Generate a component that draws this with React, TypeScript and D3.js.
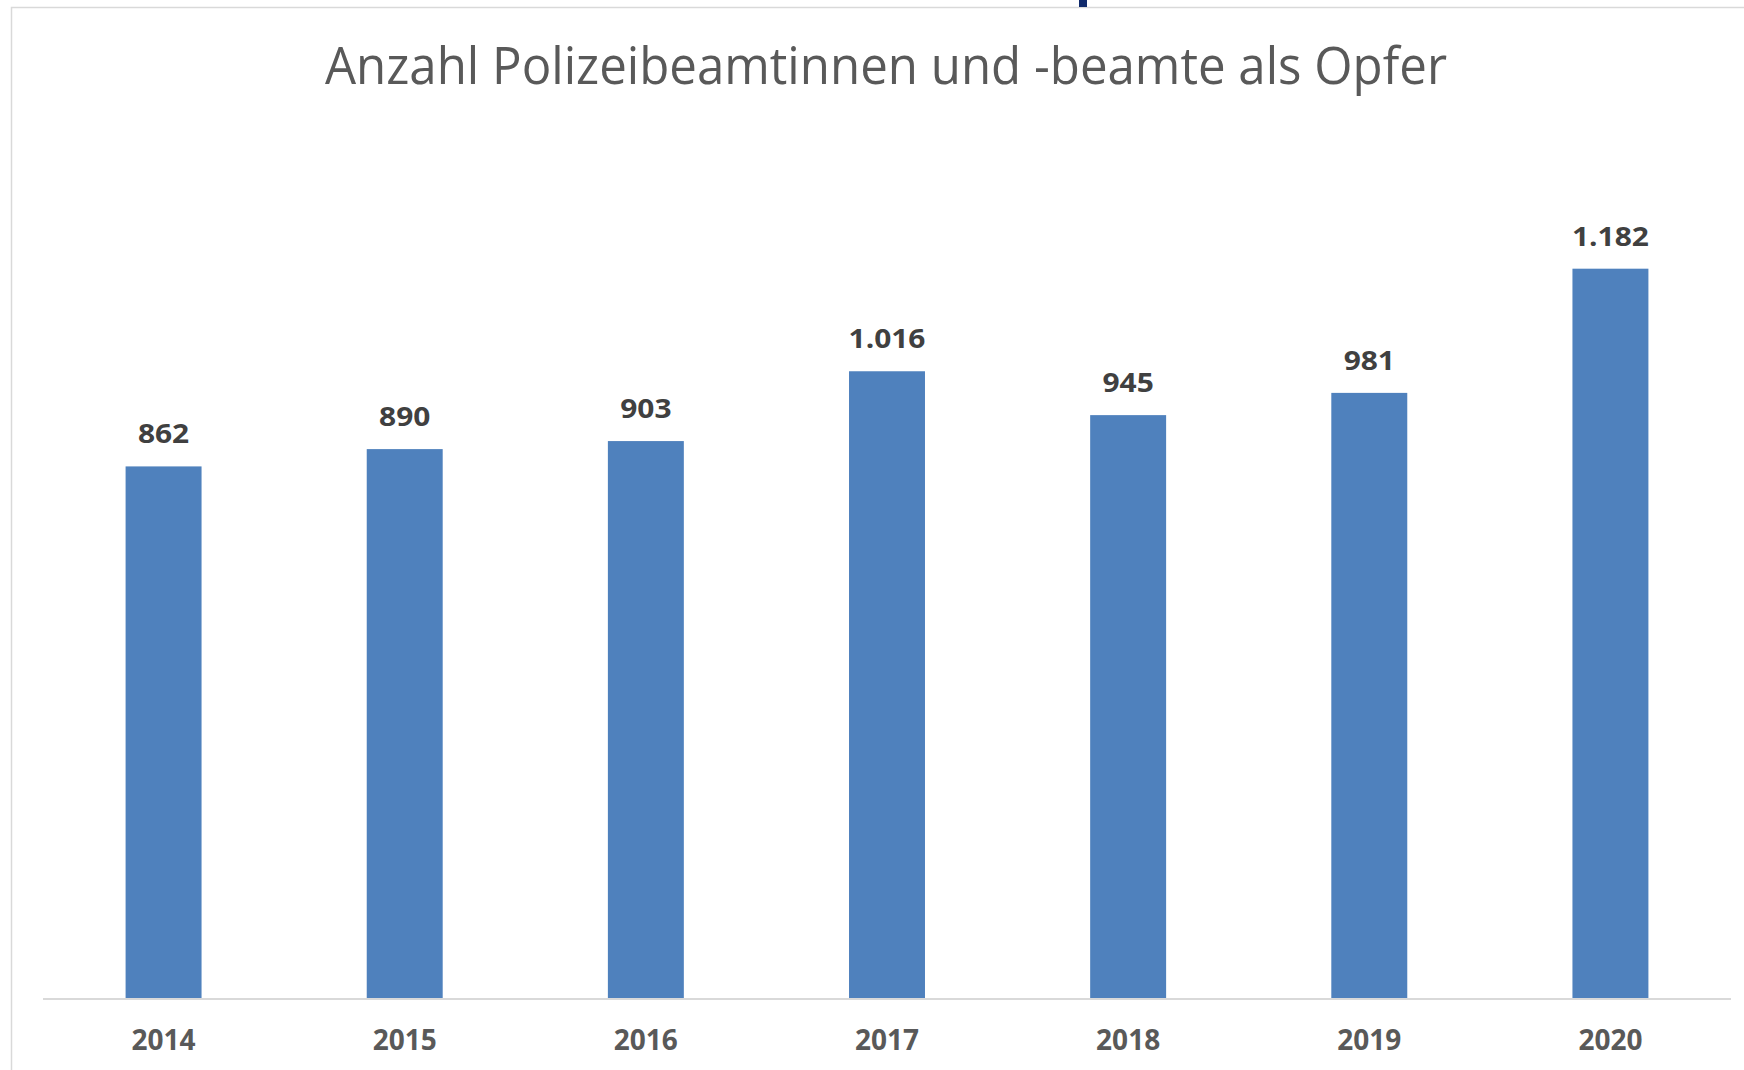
import React from "react";
import * as d3 from "d3";

const title = "Anzahl Polizeibeamtinnen und -beamte als Opfer";
const years = ["2014", "2015", "2016", "2017", "2018", "2019", "2020"];
const victims = [862, 890, 903, 1016, 945, 981, 1182];
const yDomain = [0, 1400];

const W = 1744;
const H = 1070;

const deLocale = d3.formatLocale({
  decimal: ",",
  thousands: ".",
  grouping: [3],
  currency: ["", " €"],
});
const fmt = deLocale.format(",d");

export default function App() {
  const x = d3
    .scaleBand<string>()
    .domain(years)
    .range([43, 1731])
    .paddingInner(0.685)
    .paddingOuter(0.3425);
  const y = d3.scaleLinear().domain(yDomain).range([999, 134]);

  const font = "'Open Sans', Calibri, Carlito, sans-serif";

  return (
    <svg
      width={W}
      height={H}
      viewBox={`0 0 ${W} ${H}`}
      style={{ position: "absolute", left: 0, top: 0, background: "#fff" }}
    >
      <rect x={0} y={0} width={W} height={H} fill="#ffffff" />
      {/* chart frame */}
      <rect
        x={11.5}
        y={7.5}
        width={1900}
        height={1200}
        fill="none"
        stroke="#d9d9d9"
        strokeWidth={1.5}
      />
      {/* small dark mark at top edge */}
      <rect x={1079} y={0} width={8} height={7} fill="#102a6b" />

      {/* title */}
      <text
        x={886}
        y={83.5}
        textAnchor="middle"
        fontFamily={font}
        fontSize={51}
        fill="#595959"
        textLength={1122}
        lengthAdjust="spacingAndGlyphs"
      >
        {title}
      </text>

      {/* bars */}
      {years.map((yr, i) => (
        <rect
          key={yr}
          x={x(yr)}
          y={y(victims[i])}
          width={x.bandwidth()}
          height={y(0) - y(victims[i])}
          fill="#4f81bd"
        />
      ))}

      {/* axis line */}
      <line x1={43} x2={1731} y1={y(0)} y2={y(0)} stroke="#d9d9d9" strokeWidth={2} />

      {/* value labels */}
      {years.map((yr, i) => (
        <g
          key={"v" + yr}
          transform={`translate(${(x(yr) as number) + x.bandwidth() / 2},${y(victims[i]) - 23}) scale(1.15,1)`}
        >
          <text
            x={0}
            y={0}
            textAnchor="middle"
            fontFamily={font}
            fontWeight="bold"
            fontSize={26}
            fill="#404040"
          >
            {fmt(victims[i])}
          </text>
        </g>
      ))}

      {/* category labels */}
      {years.map((yr) => (
        <text
          key={"c" + yr}
          x={(x(yr) as number) + x.bandwidth() / 2}
          y={1050}
          textAnchor="middle"
          fontFamily={font}
          fontWeight="bold"
          fontSize={28}
          fill="#595959"
        >
          {yr}
        </text>
      ))}
    </svg>
  );
}
